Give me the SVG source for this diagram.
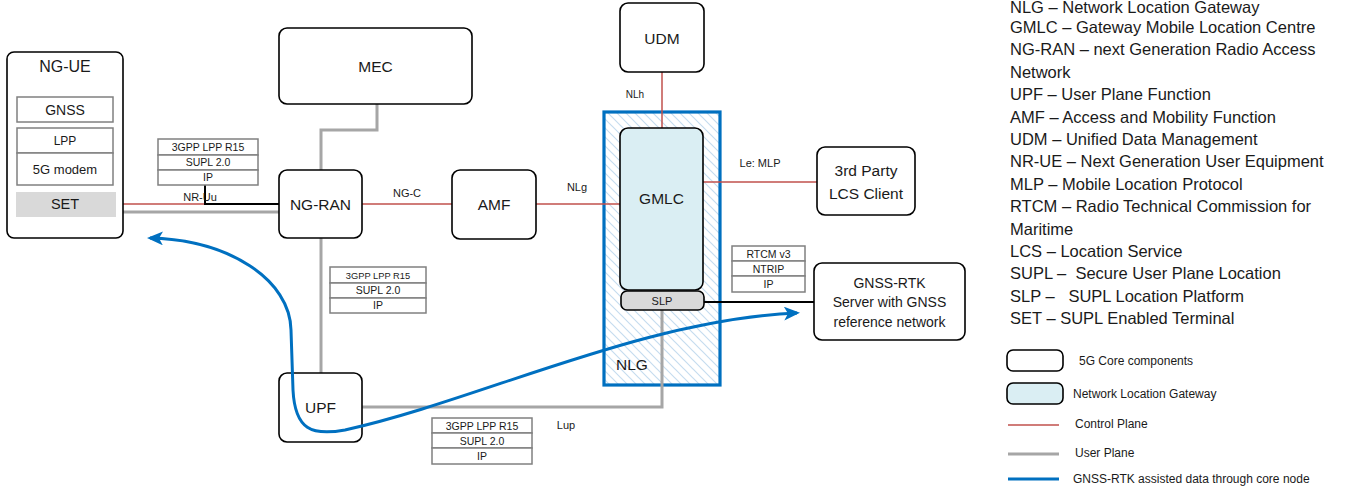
<svg xmlns="http://www.w3.org/2000/svg" width="1352" height="490" viewBox="0 0 1352 490">
<style>
text{font-family:"Liberation Sans",Arial,sans-serif;fill:#1a1a1a}
.node{fill:#fff;stroke:#000;stroke-width:1.6}
.nlgfill{fill:#DAEEF3;stroke:#000;stroke-width:1.6}
.inner{fill:#fff;stroke:#808080;stroke-width:1.5}
.stk{fill:#fff;stroke:#808080;stroke-width:1.5}
.cp{stroke:#C0504D;stroke-width:1.5;fill:none}
.up{stroke:#A6A6A6;stroke-width:3;fill:none}
.bk{stroke:#000;stroke-width:2;fill:none}
.rtk{stroke:#0070C0;stroke-width:3;fill:none}
.t16{font-size:15.5px;text-anchor:middle}
.t14{font-size:14px;text-anchor:middle}
.t13{font-size:13px;text-anchor:middle}
.s11{font-size:10.5px;text-anchor:middle}
.s9{font-size:9.3px;text-anchor:middle}
.lbl{font-size:11px;text-anchor:middle}
.leg{font-size:16.5px;white-space:pre}
.legs{font-size:12px}
</style>
<defs>
<pattern id="hatch" patternUnits="userSpaceOnUse" width="9" height="9">
<path d="M-2,-2 L11,11 M-2,7 L2,11 M7,-2 L11,2" stroke="#C5DCEF" stroke-width="1.2"/>
</pattern>
<marker id="arr" viewBox="0 0 16 14" refX="13" refY="7" markerWidth="16" markerHeight="14" markerUnits="userSpaceOnUse" orient="auto-start-reverse">
<path d="M0,0 L16,7 L0,14 L4,7 z" fill="#0070C0"/>
</marker>
</defs>

<g id="nlg">
<rect x="604" y="112" width="116" height="273" fill="#fff"/>
<rect x="604" y="112" width="116" height="273" fill="url(#hatch)" stroke="#0070C0" stroke-width="3.2"/>
<text x="616" y="370" style="font-size:15.5px">NLG</text>
</g>

<g id="connectors">
<line class="cp" x1="123" y1="204" x2="205" y2="204"/>
<polyline class="bk" points="205,185 205,204 279,204" stroke-width="1.6"/>
<line class="up" x1="123" y1="212" x2="279" y2="212"/>
<polyline class="up" points="377,104 377,130 321,130 321,170"/>
<line class="up" x1="321" y1="238" x2="321" y2="373"/>
<polyline class="up" points="662,310 662,407 362,407"/>
<line class="cp" x1="362" y1="204" x2="452" y2="204"/>
<line class="cp" x1="536" y1="204" x2="620" y2="204"/>
<line class="cp" x1="662" y1="72" x2="662" y2="128"/>
<line class="cp" x1="703" y1="182" x2="817" y2="182"/>
<line class="bk" x1="704" y1="302" x2="814" y2="302"/>
<text class="lbl" x="200" y="200.5">NR-Uu</text>
<text class="lbl" x="407" y="197">NG-C</text>
<text class="lbl" x="577" y="191">NLg</text>
<text class="lbl" x="635" y="97.5" style="font-size:10px">NLh</text>
<text class="lbl" x="760" y="167">Le: MLP</text>
<text class="lbl" x="566" y="429">Lup</text>
</g>

<g id="stack-uu">
<rect class="stk" x="158" y="139" width="100" height="16"/>
<rect class="stk" x="158" y="155" width="100" height="15"/>
<rect class="stk" x="158" y="170" width="100" height="15"/>
<text class="s11" x="208" y="151">3GPP LPP R15</text>
<text class="s11" x="208" y="166">SUPL 2.0</text>
<text class="s11" x="208" y="181">IP</text>
</g>

<g id="stack-n3">
<rect class="stk" x="330" y="267" width="96" height="16"/>
<rect class="stk" x="330" y="283" width="96" height="15"/>
<rect class="stk" x="330" y="298" width="96" height="15"/>
<text class="s9" x="378" y="278.5">3GPP LPP R15</text>
<text class="s11" x="378" y="294">SUPL 2.0</text>
<text class="s11" x="378" y="309">IP</text>
</g>

<g id="stack-lup">
<rect class="stk" x="432" y="418" width="100" height="15"/>
<rect class="stk" x="432" y="433" width="100" height="15"/>
<rect class="stk" x="432" y="448" width="100" height="16"/>
<text class="s11" x="482" y="429.5">3GPP LPP R15</text>
<text class="s11" x="482" y="444.5">SUPL 2.0</text>
<text class="s11" x="482" y="460">IP</text>
</g>

<g id="stack-rtcm">
<rect class="stk" x="732" y="246" width="73" height="15"/>
<rect class="stk" x="732" y="261" width="73" height="15"/>
<rect class="stk" x="732" y="276" width="73" height="16"/>
<text class="s11" x="768.5" y="257.5">RTCM v3</text>
<text class="s11" x="768.5" y="272.5">NTRIP</text>
<text class="s11" x="768.5" y="288">IP</text>
</g>

<g id="ng-ue">
<rect class="node" x="7" y="52" width="116" height="186" rx="7"/>
<text class="t16" x="65" y="72" style="font-size:16px">NG-UE</text>
<rect class="inner" x="17" y="97" width="96" height="25"/>
<text class="t14" x="65" y="115">GNSS</text>
<rect class="inner" x="17" y="128" width="96" height="25"/>
<text class="t13" x="65" y="145" style="font-size:12px">LPP</text>
<rect class="inner" x="17" y="153" width="96" height="32"/>
<text class="t13" x="65" y="174">5G modem</text>
<rect x="16" y="192" width="100" height="25" fill="#D9D9D9"/>
<text class="t14" x="65" y="209" style="font-size:14.5px">SET</text>
</g>

<g id="mec">
<rect class="node" x="279" y="28" width="193" height="76" rx="8"/>
<text class="t16" x="375.5" y="72">MEC</text>
</g>

<g id="ng-ran">
<rect class="node" x="279" y="170" width="83" height="68" rx="8"/>
<text class="t16" x="320.5" y="209.5">NG-RAN</text>
</g>

<g id="amf">
<rect class="node" x="452" y="170" width="84" height="69" rx="8"/>
<text class="t16" x="494" y="209.5">AMF</text>
</g>

<g id="udm">
<rect class="node" x="620" y="3" width="84" height="69" rx="8"/>
<text class="t16" x="662" y="43.5">UDM</text>
</g>

<g id="gmlc">
<rect class="nlgfill" x="620" y="128" width="83" height="162" rx="8"/>
<text class="t16" x="661.5" y="203.5">GMLC</text>
</g>

<g id="slp">
<rect x="621" y="291" width="83" height="19" rx="6" fill="#D9D9D9" stroke="#000" stroke-width="1.6"/>
<text class="lbl" x="662" y="305">SLP</text>
</g>

<g id="lcs-client">
<rect class="node" x="817" y="147" width="98" height="68" rx="8"/>
<text class="t16" x="866" y="176">3rd Party</text>
<text class="t16" x="866" y="198.5">LCS Client</text>
</g>

<g id="gnss-rtk">
<rect class="node" x="814" y="263" width="151" height="77" rx="8"/>
<text class="t14" x="889.5" y="288">GNSS-RTK</text>
<text class="t14" x="889.5" y="307">Server with GNSS</text>
<text class="t14" x="889.5" y="326.5">reference network</text>
</g>

<g id="upf">
<rect class="node" x="279" y="373" width="83" height="69" rx="8"/>
<text class="t16" x="320.5" y="413">UPF</text>
</g>

<g id="rtk-flow">
<path class="rtk" marker-start="url(#arr)" marker-end="url(#arr)" d="M150,238 C230,240 290,280 291,330 L293,390 C295,430 312,436 345,430 C480,400 640,320 797,313"/>
</g>

<g id="legend">
<text class="leg" x="1010" y="12.5">NLG – Network Location Gateway</text>
<text class="leg" x="1010" y="33.4">GMLC – Gateway Mobile Location Centre</text>
<text class="leg" x="1010" y="55.3">NG-RAN – next Generation Radio Access</text>
<text class="leg" x="1010" y="77.7">Network</text>
<text class="leg" x="1010" y="100.1">UPF – User Plane Function</text>
<text class="leg" x="1010" y="122.5">AMF – Access and Mobility Function</text>
<text class="leg" x="1010" y="144.9">UDM – Unified Data Management</text>
<text class="leg" x="1010" y="167.3">NR-UE – Next Generation User Equipment</text>
<text class="leg" x="1010" y="189.7">MLP – Mobile Location Protocol</text>
<text class="leg" x="1010" y="212.1">RTCM – Radio Technical Commission for</text>
<text class="leg" x="1010" y="234.5">Maritime</text>
<text class="leg" x="1010" y="256.9">LCS – Location Service</text>
<text class="leg" x="1010" y="279.3">SUPL –  Secure User Plane Location</text>
<text class="leg" x="1010" y="301.7">SLP –   SUPL Location Platform</text>
<text class="leg" x="1010" y="324.1">SET – SUPL Enabled Terminal</text>

<rect x="1007" y="350" width="56" height="21" rx="6" fill="#fff" stroke="#000" stroke-width="1.6"/>
<text class="legs" x="1079" y="365">5G Core components</text>
<rect x="1007" y="383" width="56" height="21" rx="6" fill="#DAEEF3" stroke="#000" stroke-width="1.6"/>
<text class="legs" x="1073" y="398">Network Location Gateway</text>
<line class="cp" x1="1008" y1="425" x2="1059" y2="425"/>
<text class="legs" x="1075" y="428">Control Plane</text>
<line class="up" x1="1008" y1="454" x2="1059" y2="454"/>
<text class="legs" x="1075" y="457">User Plane</text>
<line class="rtk" x1="1008" y1="479" x2="1059" y2="479"/>
<text class="legs" x="1073" y="483">GNSS-RTK assisted data through core node</text>
</g>
</svg>
